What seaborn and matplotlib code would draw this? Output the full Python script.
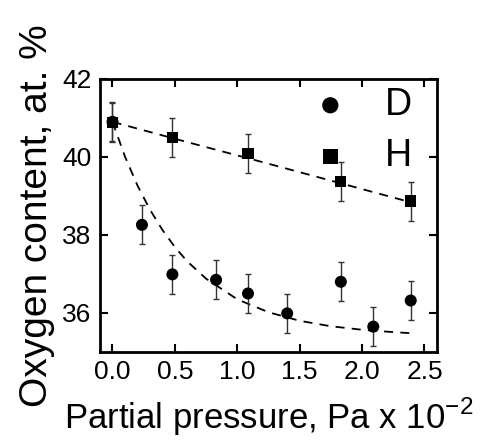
import numpy as np
import pandas as pd
import matplotlib
matplotlib.use("Agg")
import matplotlib.pyplot as plt
import seaborn as sns

# Data
d_x = [0.0, 0.236, 0.48, 0.83, 1.086, 1.40, 1.83, 2.09, 2.39]
d_y = [40.9, 38.26, 36.99, 36.85, 36.50, 35.99, 36.80, 35.65, 36.32]
h_x = [0.0, 0.48, 1.086, 1.83, 2.39]
h_y = [40.88, 40.49, 40.08, 39.37, 38.87]
err = 0.5

# dashed guide lines
d_fit_x = [0.0, 0.1, 0.2, 0.3, 0.4, 0.5, 0.6, 0.75, 1.0, 1.25, 1.5, 1.75, 2.0, 2.25, 2.4]
d_fit_y = [40.9, 40.01, 39.27, 38.65, 38.13, 37.69, 37.32, 36.88, 36.35, 36.02, 35.80, 35.66, 35.57, 35.51, 35.48]
h_fit_x = [0.0, 0.6, 1.2, 1.8, 2.4]
h_fit_y = [40.9, 40.38, 39.87, 39.35, 38.83]

x_ticks = [0.0, 0.5, 1.0, 1.5, 2.0, 2.5]
y_ticks = [36, 38, 40, 42]

sns.set_style("ticks")
plt.rcParams['font.family'] = ['Liberation Sans', 'DejaVu Sans']
plt.rcParams['text.color'] = 'black'
plt.rcParams['axes.labelcolor'] = 'black'
plt.rcParams['xtick.color'] = 'black'
plt.rcParams['ytick.color'] = 'black'
plt.rcParams['axes.edgecolor'] = 'black'

fig = plt.figure(figsize=(4.82, 4.44), dpi=100)
ax = fig.add_axes([0.2075, 0.2072, 0.699, 0.615])

df_d = pd.DataFrame({"x": d_fit_x, "y": d_fit_y})
df_h = pd.DataFrame({"x": h_fit_x, "y": h_fit_y})
sns.lineplot(data=df_d, x="x", y="y", ax=ax, color="black", lw=1.3,
             linestyle=(0, (5, 4)), legend=False)
sns.lineplot(data=df_h, x="x", y="y", ax=ax, color="black", lw=1.3,
             linestyle=(0, (5, 4)), legend=False)

ax.errorbar(d_x, d_y, yerr=err, fmt="none", ecolor="#333333", elinewidth=1,
            capsize=2.5, capthick=1)
ax.errorbar(h_x, h_y, yerr=err, fmt="none", ecolor="#333333", elinewidth=1,
            capsize=2.5, capthick=1)

sns.scatterplot(x=d_x, y=d_y, ax=ax, marker="o", s=75, color="black",
                edgecolor="none", label="D", zorder=3)
sns.scatterplot(x=h_x, y=h_y, ax=ax, marker="s", s=65, color="black",
                edgecolor="none", label="H", zorder=3)

ax.set_xlim(-0.1, 2.6)
ax.set_ylim(35, 42)
ax.set_xticks(x_ticks)
ax.set_xticklabels([f"{t:.1f}" for t in x_ticks])
ax.set_yticks(y_ticks)

ax.tick_params(direction="in", length=6, width=1.5, labelsize=19,
               top=True, right=True, pad=6)
for s in ax.spines.values():
    s.set_linewidth(2)

ax.set_xlabel(r"Partial pressure, Pa x 10$^{\mathregular{-2}}$", fontsize=25, labelpad=8)
ax.set_ylabel("Oxygen content, at. %", fontsize=28, labelpad=5)

leg = ax.legend(loc="upper right", frameon=False, fontsize=27,
                handlelength=0.5, handletextpad=1.2, labelspacing=0.4,
                borderaxespad=0.0, bbox_to_anchor=(0.97, 1.025),
                markerscale=1.35)

plt.savefig("out.png", dpi=100)
